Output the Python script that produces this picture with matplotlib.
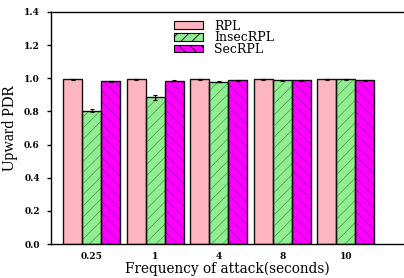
import numpy as np
import matplotlib.pyplot as plt
from matplotlib.patches import Patch

plt.rcParams["hatch.linewidth"] = 0.6

freqs = ["0.25", "1", "4", "8", "10"]
rpl = [0.995, 0.995, 0.995, 0.995, 0.995]
rpl_err = [0.003, 0.003, 0.003, 0.003, 0.003]
insec = [0.805, 0.885, 0.980, 0.988, 0.995]
insec_err = [0.008, 0.017, 0.005, 0.003, 0.003]
sec = [0.982, 0.985, 0.987, 0.987, 0.988]
sec_err = [0.003, 0.003, 0.003, 0.003, 0.003]

fig = plt.figure(figsize=(4.04, 2.78), dpi=100)
ax = fig.add_axes([0.126, 0.122, 0.874, 0.835])

x = np.arange(len(freqs))
w = 0.3
ekw = dict(elinewidth=0.8, capthick=0.8)
series = [
    (x - w, rpl, rpl_err, "#ffb6c1", "", None, "RPL"),
    (x, insec, insec_err, "#90ee90", "///", "#5aa55a", "InsecRPL"),
    (x + w, sec, sec_err, "#ff00ff", "\\\\\\", "#b000c0", "SecRPL"),
]
for pos, vals, err, fc, hatch, hc, lab in series:
    # fill first, then hatch in its own colour, then black outline + error bars
    ax.bar(pos, vals, w, color=fc, linewidth=0, zorder=0.5)
    if hatch:
        ax.bar(pos, vals, w, color="none", edgecolor=hc, linewidth=0, hatch=hatch)
    ax.bar(pos, vals, w, yerr=err, capsize=1.5, facecolor="none",
           edgecolor="#111111", linewidth=1.0, error_kw=ekw)

handles = [Patch(facecolor=fc, edgecolor="black", hatch=hatch, linewidth=0.8, label=lab)
           for pos, vals, err, fc, hatch, hc, lab in series]

ax.set_xlim(-0.646, 4.92)
ax.set_ylim(0, 1.4)
yt = np.arange(0, 1.41, 0.2)
ax.set_yticks(yt)
ax.set_yticklabels(["%.1f" % v for v in yt], fontsize=6.5, fontweight="bold",
                   family="DejaVu Serif")
ax.set_xticks(x)
ax.set_xticklabels(freqs, fontsize=6.5, fontweight="bold", family="DejaVu Serif")
ax.tick_params(axis="x", length=0, pad=6)
ax.tick_params(axis="y", length=3, width=1, direction="out", pad=5)
ax.spines["right"].set_visible(False)
for s in ["left", "bottom", "top"]:
    ax.spines[s].set_linewidth(1.0)

ax.set_xlabel("Frequency of attack(seconds)", fontsize=9.8, family="DejaVu Serif", labelpad=0)
ax.set_ylabel("Upward PDR", fontsize=11.5, family="Liberation Serif", labelpad=4)

ax.legend(handles=handles, loc="upper left", bbox_to_anchor=(0.32, 1.01), frameon=False,
          prop={"family": "DejaVu Serif", "size": 9}, labelspacing=-0.1, borderpad=0.3,
          handlelength=2.3, handleheight=0.55, handletextpad=0.9)

fig.savefig("out.png", dpi=100)
